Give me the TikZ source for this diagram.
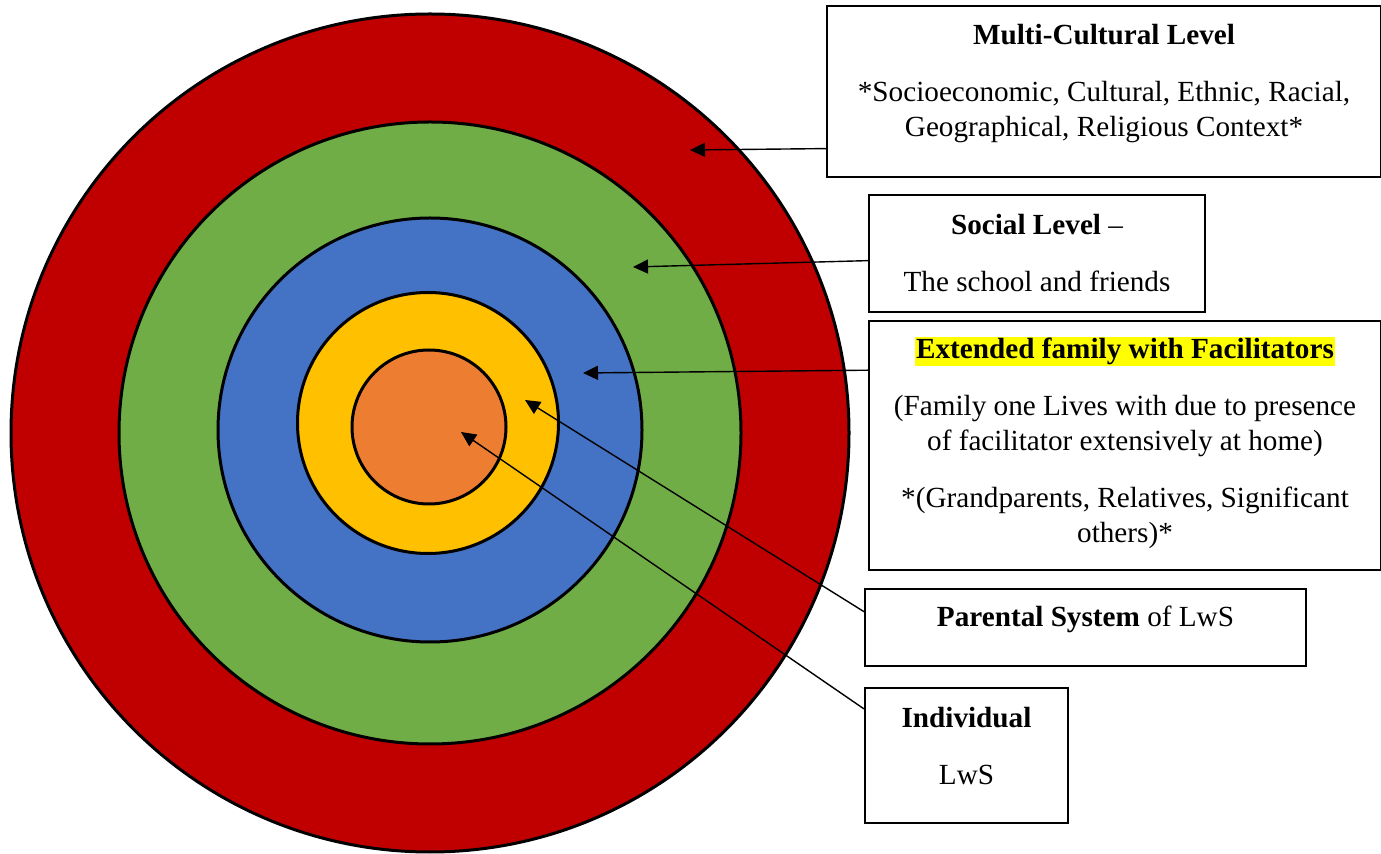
\documentclass[tikz,border=0pt]{standalone}
\usepackage{fontspec}
\setmainfont{Liberation Serif}
\usepackage{xcolor}
\usetikzlibrary{positioning,calc,arrows.meta}

\definecolor{ringred}{HTML}{C00000}
\definecolor{ringgreen}{HTML}{70AD47}
\definecolor{ringblue}{HTML}{4472C4}
\definecolor{ringyellow}{HTML}{FFC000}
\definecolor{ringorange}{HTML}{ED7D31}
\definecolor{marker}{HTML}{FFFF00}

\begin{document}
\begin{tikzpicture}[x=0.5pt,y=-0.5pt]
            \tikzstyle{ring} = [circle, draw, line width=1.5pt, inner sep=0pt]
            \tikzstyle{levelbox} = [rectangle, draw, line width=1pt, anchor=north west, align=center, inner sep=0pt, font=\fontsize{14.6}{17.5}\selectfont]
            \tikzstyle{pointer} = [line width=0.7pt, -{Triangle[length=7.5pt,width=7pt]}]

            \useasboundingbox (0,0) rectangle (1381,854);

            % the rings, outside first
            \node [ring, fill=ringred, minimum size=419pt] (multiring) at (430,433) {};
            \node [ring, fill=ringgreen, minimum size=311pt] (socialring) at (430,433) {};
            \node [ring, fill=ringblue, minimum size=212pt] (extring) at (430,430) {};
            \node [ring, fill=ringyellow, minimum size=130.5pt] (parentring) at (428,423) {};
            \node [ring, fill=ringorange, minimum size=77pt] (selfring) at (429,427) {};

            % where the arrows point
            \coordinate (multitip) at (690,150);
            \coordinate (socialtip) at (633,267);
            \coordinate (exttip) at (583,373);
            \coordinate (parenttip) at (525,400);
            \coordinate (selftip) at (461,432);

            % the boxes
            \node [levelbox, minimum width=277pt, minimum height=85.5pt, text depth=11pt] (multi) at (826,5)
                {\textbf{Multi-Cultural Level}\\[11pt]*Socioeconomic, Cultural, Ethnic, Racial,\\Geographical, Religious Context*};
            \node [levelbox, minimum width=168pt, minimum height=58.5pt] (social) at (868,194)
                {\textbf{Social Level} --\\[11pt]The school and friends};
            \node [levelbox, minimum width=256pt, minimum height=124.5pt, text depth=6pt] (ext) at (868,320)
                {{\setlength{\fboxsep}{0.5pt}\colorbox{marker}{\textbf{Extended family with Facilitators}}}\\[11pt](Family one Lives with due to presence\\of facilitator extensively at home)\\[11pt]*(Grandparents, Relatives, Significant\\others)*};
            \node [levelbox, minimum width=220.5pt, minimum height=38.5pt, text depth=11pt] (parental) at (864,588)
                {\textbf{Parental System} of LwS};
            \node [levelbox, minimum width=101.5pt, minimum height=67.5pt, text depth=10pt] (self) at (864,687)
                {\textbf{Individual}\\[11pt]LwS};

            \draw [pointer] ($(multi.south west)!0.17!(multi.north west)$) -- (multitip);
            \draw [pointer] ($(social.south west)!0.44!(social.north west)$) -- (socialtip);
            \draw [pointer] ($(ext.south west)!0.80!(ext.north west)$) -- (exttip);
            \draw [pointer] ($(parental.south west)!0.70!(parental.north west)$) -- (parenttip);
            \draw [pointer] ($(self.south west)!0.84!(self.north west)$) -- (selftip);
        \end{tikzpicture}
\end{document}
